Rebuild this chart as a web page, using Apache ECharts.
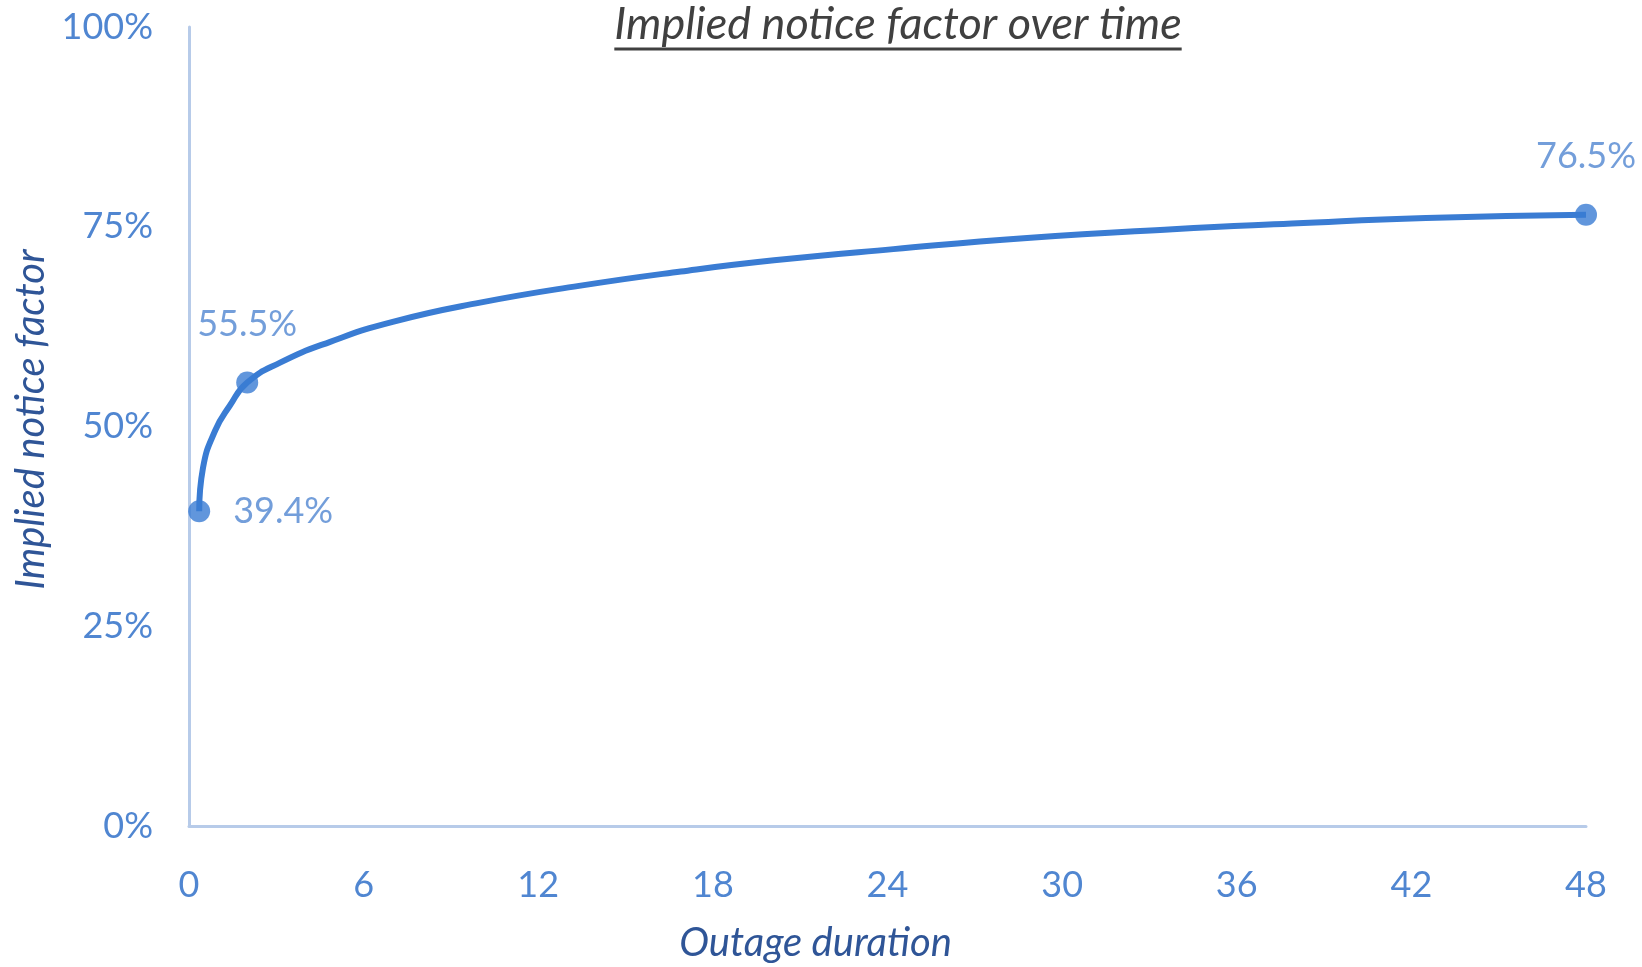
<!DOCTYPE html>
<html>
<head>
<meta charset="utf-8">
<title>Implied notice factor over time</title>
<script src="https://cdn.jsdelivr.net/npm/echarts@6/dist/echarts.min.js"></script>
<style>
  html, body { margin: 0; padding: 0; background: #ffffff; }
  #chart { width: 1642px; height: 967px; }
</style>
</head>
<body>
<div id="chart"></div>
<script>
// Outage duration (hours) and implied notice factor (%) along the curve
const hours = [0.35, 0.48, 0.9, 1.4, 2, 3.13, 4.85, 7, 10, 13.4, 16.9, 20.1, 24.2, 28.8, 33.8, 37.9, 42.5, 48];
const noticeFactor = [39.4, 44.8, 49.5, 52.6, 55.5, 58.0, 60.6, 63.1, 65.5, 67.6, 69.4, 70.8, 72.2, 73.6, 74.7, 75.4, 76.1, 76.5];

// Highlighted points with value labels
const markHours = [0.35, 2, 48];
const markValues = [39.4, 55.5, 76.5];
const markLabelPos = ['right', 'top', 'top'];

// Axis ticks
const xTicks = [0, 6, 12, 18, 24, 30, 36, 42, 48];
const yTicks = [0, 25, 50, 75, 100];

const titleText = 'Implied notice factor over time';
const xName = 'Outage duration';
const yName = 'Implied notice factor';

const FONT = 'Lato, "Open Sans", sans-serif';
const LINE_BLUE = '#3a7cd3';
const TICK_BLUE = '#5086d1';
const NAME_BLUE = '#2f5597';
const AXIS_LINE = '#b7cbe9';

const chart = echarts.init(document.getElementById('chart'), null, { renderer: 'canvas' });

// Underline for the title, sized to the measured text width
const titleFont = 'italic 45px ' + FONT;
const ctx = document.createElement('canvas').getContext('2d');
ctx.font = titleFont;
const titleW = ctx.measureText(titleText).width;
const titleCx = 898;

chart.setOption({
  animation: false,
  backgroundColor: '#ffffff',
  grid: { left: 189, right: 56, top: 27, bottom: 141, containLabel: false, outerBoundsMode: 'none' },
  xAxis: {
    type: 'value',
    min: xTicks[0],
    max: xTicks[xTicks.length - 1],
    interval: xTicks[1] - xTicks[0],
    name: xName,
    nameLocation: 'middle',
    nameGap: 97,
    nameTextStyle: {
      color: NAME_BLUE, fontFamily: FONT, fontStyle: 'italic', fontSize: 40,
      padding: [0, 144, 0, 0]
    },
    axisLine: { show: true, lineStyle: { color: AXIS_LINE, width: 3 } },
    axisTick: { show: false },
    splitLine: { show: false },
    axisLabel: { color: TICK_BLUE, fontFamily: FONT, fontSize: 36, margin: 41 }
  },
  yAxis: {
    type: 'value',
    min: yTicks[0],
    max: yTicks[yTicks.length - 1],
    interval: yTicks[1] - yTicks[0],
    name: yName,
    nameLocation: 'middle',
    nameGap: 138,
    nameTextStyle: {
      color: NAME_BLUE, fontFamily: FONT, fontStyle: 'italic', fontSize: 40,
      padding: [0, 0, 0, 14]
    },
    axisLine: { show: true, lineStyle: { color: AXIS_LINE, width: 3 } },
    axisTick: { show: false },
    splitLine: { show: false },
    axisLabel: { color: TICK_BLUE, fontFamily: FONT, fontSize: 36, margin: 36,
      formatter: v => v + '%' }
  },
  series: [
    {
      type: 'line',
      data: hours.map((h, i) => [h, noticeFactor[i]]),
      smooth: 0.5,
      showSymbol: false,
      lineStyle: { color: LINE_BLUE, width: 6 },
      z: 2
    },
    {
      type: 'scatter',
      data: markHours.map((h, i) => ({
        value: [h, markValues[i]],
        label: { position: markLabelPos[i], distance: markLabelPos[i] === 'right' ? 23 : 29 }
      })),
      symbolSize: 22,
      itemStyle: { color: LINE_BLUE },
      label: {
        show: true,
        color: TICK_BLUE,
        fontFamily: FONT,
        fontSize: 36,
        formatter: p => p.value[1].toFixed(1) + '%'
      },
      z: 3
    }
  ],
  graphic: [
    {
      type: 'text',
      left: titleCx - titleW / 2,
      top: 2,
      style: { text: titleText, font: titleFont, fill: '#404040' }
    },
    {
      type: 'line',
      shape: { x1: titleCx - titleW / 2, y1: 49, x2: titleCx + titleW / 2, y2: 49 },
      style: { stroke: '#404040', lineWidth: 3 }
    }
  ]
});
</script>
</body>
</html>
